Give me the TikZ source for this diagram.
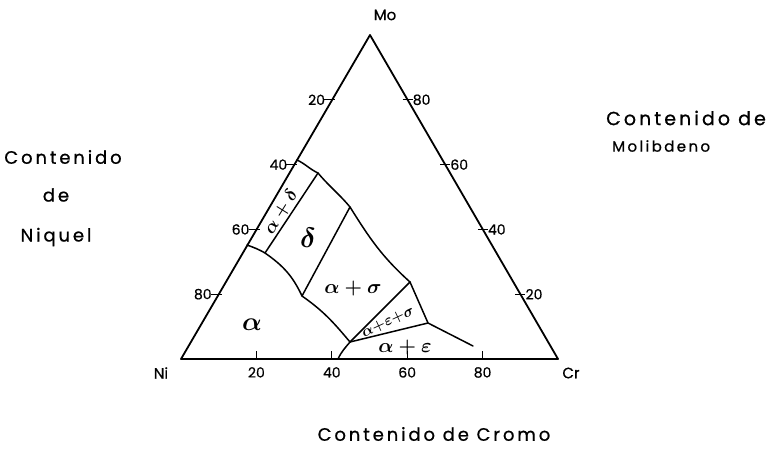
\RequirePackage{fix-cm}
\documentclass[tikz,border=0pt]{standalone}
\usepackage{fontspec}
\setmainfont{Poppins}[FakeBold=0.6]
\newfontfamily\hand[LetterSpace=16,FakeBold=0.8]{Poppins}
\usetikzlibrary{calc}

\begin{document}
\begin{tikzpicture}[
    x=1pt, y=1pt,
    edge/.style={draw=black, line width=1.8pt, line join=round},
    bnd/.style={draw=black, line width=1.5pt, line cap=round},
    tk/.style={draw=black, line width=1.3pt},
    num/.style={font=\fontsize{14}{16}\selectfont, inner sep=1pt},
    vtx/.style={font=\fontsize{15}{17}\selectfont, inner sep=1pt},
    phase/.style={font=\fontsize{20}{22}\selectfont\boldmath, inner sep=0pt},
    title/.style={font=\hand\fontsize{18}{20}\selectfont, inner sep=0pt}
]
\useasboundingbox (0,0) rectangle (778,-449);

% triangle
\coordinate (Ni) at (181,-359);
\coordinate (Cr) at (558,-359);
\coordinate (Mo) at (370,-35);
\draw[edge] (Ni) -- (Cr) -- (Mo) -- cycle;

\node[vtx] (lMo) at (385,-15) {Mo};
\node[vtx] (lNi) at (161,-373) {Ni};
\node[vtx] (lCr) at (571,-373) {Cr};

% scales
\foreach \v in {20,40,60,80} {
  \coordinate (l\v) at ($(Mo)!\v/100!(Ni)$);
  \draw[tk] ($(l\v)+(-8,0)$) -- ($(l\v)+(3,0)$);
  \node[num, anchor=east] (nl\v) at ($(l\v)+(-6,0)$) {\v};
  \coordinate (r\v) at ($(Cr)!\v/100!(Mo)$);
  \draw[tk] ($(r\v)+(-5,0)$) -- ($(r\v)+(5,0)$);
  \node[num, anchor=west] (nr\v) at ($(r\v)+(4,0)$) {\v};
  \coordinate (b\v) at ($(Ni)!\v/100!(Cr)$);
  \draw[tk] (b\v) -- ++(0,8);
  \node[num, anchor=north] (nb\v) at ($(b\v)+(0,-7)$) {\v};
}

% phase boundaries
\coordinate (p1) at (297,-160);
\coordinate (p2) at (318,-173);
\coordinate (p3) at (350,-207);
\coordinate (p4) at (410,-282);
\coordinate (p5) at (428,-323);
\coordinate (p6) at (473,-346);
\coordinate (q1) at (247,-245);
\coordinate (q2) at (265,-253);
\coordinate (q3) at (302,-296);
\coordinate (t)  at (350,-342);
\coordinate (bt) at (338,-359);

\draw[bnd] (p1) to[out=-25,in=155] (p2) to[out=-50,in=130] (p3)
  to[out=-58,in=138] (p4) -- (p5) -- (p6);
\draw[bnd] (p2) -- (q2);
\draw[bnd] (q1) to[out=-20,in=150] (q2) to[out=-35,in=115] (q3);
\draw[bnd] (p3) -- (q3);
\draw[bnd] (q3) to[out=-35,in=130] (t);
\draw[bnd] (t) -- (p4);
\draw[bnd] (t) -- (p5);
\draw[bnd] (t) to[out=-130,in=65] (bt);

% phase labels
\node[phase, rotate=58, font=\fontsize{18}{20}\selectfont\boldmath] (ad) at (281,-212) {$\alpha+\delta$};
\node[phase, font=\fontsize{28}{30}\selectfont\boldmath] (dl) at (308,-238) {$\delta$};
\node[phase] (as) at (353,-288) {$\alpha+\sigma$};
\node[phase, rotate=25, font=\fontsize{15}{17}\selectfont\boldmath] (aes) at (388,-322) {$\alpha{+}\varepsilon{+}\sigma$};
\node[phase] (ae) at (405,-347) {$\alpha+\varepsilon$};
\node[phase, font=\fontsize{26}{28}\selectfont\boldmath] (al) at (252,-325) {$\alpha$};

% axis titles
\node[title] (tn1) at (63,-157) {Contenido};
\node[title] (tn2) at (56,-195) {de};
\node[title] (tn3) at (56,-237) {Niquel};
\node[title, anchor=west, font=\hand\fontsize{19}{21}\selectfont] (tm1) at (606,-118) {Contenido de};
\node[title, anchor=west, font=\hand\fontsize{15}{17}\selectfont] (tm2) at (612,-146) {Molibdeno};
\node[title] (tc) at (434,-434) {Contenido de Cromo};
\end{tikzpicture}
\end{document}
